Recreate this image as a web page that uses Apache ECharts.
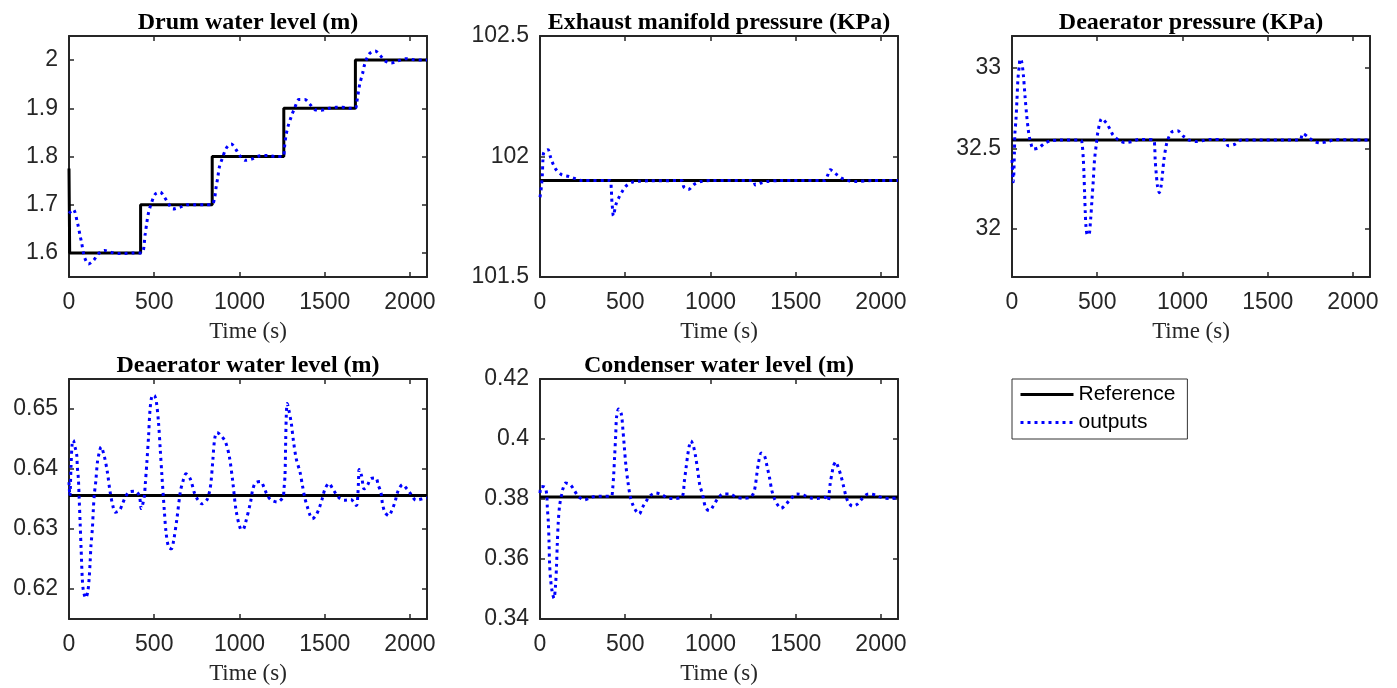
<!DOCTYPE html>
<html>
<head>
<meta charset="utf-8">
<script src="https://cdn.jsdelivr.net/npm/echarts@6/dist/echarts.min.js"></script>
<style>
html, body { margin: 0; padding: 0; background: #fff; }
#chart { width: 1397px; height: 688px; }
</style>
</head>
<body>
<div id="chart"></div>
<script>
// drum water level (m)
const drumTime = [0, 25, 51, 65, 75, 84, 94, 114, 143, 172, 208, 251, 290, 329, 378, 427, 447, 457, 467, 482, 506, 535, 559, 584, 610, 653, 692, 741, 790, 838, 853, 863, 873, 882, 898, 924, 951, 980, 1006, 1035, 1075, 1114, 1163, 1212, 1255, 1264, 1273, 1286, 1304, 1324, 1349, 1384, 1414, 1443, 1480, 1525, 1565, 1604, 1643, 1680, 1688, 1696, 1706, 1722, 1735, 1761, 1796, 1825, 1855, 1890, 1927, 1973, 2016, 2075, 2100];
const drumOut = [1.682, 1.69, 1.66, 1.636, 1.619, 1.601, 1.588, 1.577, 1.584, 1.598, 1.605, 1.601, 1.599, 1.599, 1.6, 1.6, 1.639, 1.664, 1.684, 1.702, 1.722, 1.726, 1.716, 1.702, 1.691, 1.695, 1.7, 1.7, 1.7, 1.7, 1.712, 1.736, 1.757, 1.778, 1.795, 1.818, 1.826, 1.814, 1.8, 1.792, 1.795, 1.801, 1.802, 1.8, 1.8, 1.819, 1.844, 1.864, 1.883, 1.901, 1.918, 1.918, 1.908, 1.897, 1.896, 1.9, 1.902, 1.902, 1.9, 1.9, 1.913, 1.93, 1.951, 1.972, 1.992, 2.013, 2.019, 2.01, 1.998, 1.994, 1.998, 2.003, 2.001, 2.0, 2.0];
const drumRefTime = [0, 4, 420, 840, 1260, 1680, 2100];
const drumRefLevel = [1.775, 1.6, 1.7, 1.8, 1.9, 2.0, 2.0];

// exhaust manifold pressure (KPa)
const exhTime = [0, 8, 14, 17, 23, 47, 62, 76, 95, 126, 169, 208, 247, 412, 418, 420, 422, 426, 430, 445, 461, 480, 504, 539, 578, 640, 831, 844, 870, 903, 942, 1000, 1249, 1263, 1292, 1331, 1400, 1667, 1687, 1702, 1735, 1768, 1807, 1852, 1950, 2100];
const exhOut = [101.831, 101.873, 101.928, 101.983, 102.018, 102.028, 101.997, 101.97, 101.945, 101.925, 101.917, 101.908, 101.9, 101.9, 101.866, 101.838, 101.81, 101.78, 101.754, 101.8, 101.827, 101.852, 101.877, 101.893, 101.897, 101.899, 101.9, 101.873, 101.863, 101.884, 101.896, 101.9, 101.9, 101.882, 101.889, 101.896, 101.9, 101.9, 101.921, 101.945, 101.928, 101.911, 101.9, 101.896, 101.9, 101.9];
const exhRef = 101.9;

// deaerator pressure (KPa)
const deaPTime = [0, 8, 14, 17, 23, 29, 35, 43, 47, 56, 66, 76, 86, 95, 101, 111, 125, 160, 189, 228, 276, 403, 412, 418, 422, 426, 430, 434, 442, 451, 461, 469, 477, 484, 494, 504, 527, 553, 574, 593, 626, 661, 704, 747, 792, 831, 837, 840, 846, 854, 864, 874, 883, 891, 903, 914, 938, 971, 1006, 1039, 1080, 1123, 1165, 1249, 1268, 1309, 1346, 1687, 1706, 1735, 1770, 1807, 1852, 1891, 2100];
const deaPOut = [32.428, 32.293, 32.469, 32.593, 32.676, 32.8, 32.934, 33.017, 33.058, 33.043, 32.965, 32.83, 32.707, 32.62, 32.576, 32.531, 32.496, 32.506, 32.531, 32.548, 32.552, 32.552, 32.521, 32.438, 32.345, 32.221, 32.097, 32.014, 31.963, 31.963, 32.056, 32.18, 32.304, 32.428, 32.521, 32.603, 32.686, 32.659, 32.622, 32.583, 32.552, 32.537, 32.543, 32.556, 32.556, 32.552, 32.51, 32.428, 32.345, 32.262, 32.225, 32.262, 32.345, 32.428, 32.51, 32.556, 32.603, 32.61, 32.576, 32.552, 32.543, 32.55, 32.556, 32.552, 32.517, 32.527, 32.552, 32.552, 32.593, 32.572, 32.545, 32.535, 32.543, 32.554, 32.552];
const deaPRef = 32.552;

// deaerator water level (m)
const deaLTime = [0, 5, 12, 18, 25, 35, 45, 49, 55, 59, 65, 71, 78, 84, 98, 110, 118, 124, 129, 137, 143, 149, 157, 167, 178, 188, 208, 225, 241, 257, 271, 296, 314, 329, 353, 388, 412, 424, 441, 447, 457, 467, 476, 490, 502, 512, 525, 535, 545, 559, 569, 584, 600, 614, 633, 653, 667, 686, 712, 737, 755, 780, 810, 824, 833, 843, 855, 869, 894, 918, 941, 961, 980, 1006, 1020, 1035, 1065, 1078, 1094, 1124, 1143, 1159, 1182, 1222, 1255, 1261, 1267, 1271, 1275, 1280, 1290, 1304, 1316, 1333, 1355, 1369, 1384, 1398, 1414, 1427, 1447, 1467, 1486, 1502, 1525, 1545, 1565, 1588, 1614, 1653, 1686, 1694, 1698, 1702, 1716, 1731, 1751, 1771, 1800, 1814, 1829, 1839, 1853, 1875, 1894, 1912, 1931, 1957, 1982, 2006, 2035, 2084, 2100];
const deaLOut = [0.6378, 0.6355, 0.6405, 0.644, 0.6448, 0.6437, 0.6424, 0.6403, 0.6384, 0.6356, 0.6312, 0.6267, 0.6217, 0.6198, 0.6185, 0.6195, 0.6217, 0.6245, 0.6273, 0.63, 0.6334, 0.6359, 0.6379, 0.6412, 0.6428, 0.6437, 0.642, 0.6395, 0.6362, 0.6339, 0.6328, 0.6331, 0.6342, 0.6352, 0.6362, 0.6363, 0.6356, 0.6334, 0.6353, 0.6373, 0.6412, 0.6456, 0.6501, 0.6523, 0.6522, 0.6513, 0.6478, 0.6434, 0.6389, 0.6331, 0.6295, 0.627, 0.6267, 0.6281, 0.6317, 0.6362, 0.6378, 0.6392, 0.6383, 0.6359, 0.6349, 0.6342, 0.6349, 0.6362, 0.6378, 0.6412, 0.6451, 0.6461, 0.6455, 0.6445, 0.642, 0.6378, 0.6331, 0.63, 0.6299, 0.631, 0.6345, 0.6366, 0.6377, 0.6379, 0.637, 0.6359, 0.6349, 0.6345, 0.6353, 0.6367, 0.6389, 0.6445, 0.6492, 0.6509, 0.6498, 0.6476, 0.6448, 0.6417, 0.6395, 0.6373, 0.6351, 0.6337, 0.6323, 0.6317, 0.6322, 0.6334, 0.6351, 0.6367, 0.6376, 0.6368, 0.6359, 0.6351, 0.6348, 0.6349, 0.6339, 0.6356, 0.6378, 0.6399, 0.6389, 0.6367, 0.6373, 0.6384, 0.6385, 0.6373, 0.6362, 0.6342, 0.6328, 0.6322, 0.6331, 0.6345, 0.6364, 0.6374, 0.6367, 0.6358, 0.6348, 0.6351, 0.6352];
const deaLRef = 0.6356;

// condenser water level (m)
const condTime = [0, 8, 29, 39, 43, 49, 53, 56, 62, 72, 82, 91, 97, 101, 107, 115, 126, 134, 150, 179, 202, 224, 261, 302, 344, 383, 418, 426, 432, 438, 444, 449, 461, 477, 486, 494, 504, 516, 529, 543, 562, 582, 601, 621, 646, 679, 718, 757, 798, 835, 846, 856, 866, 876, 885, 899, 912, 924, 938, 953, 971, 992, 1016, 1041, 1074, 1113, 1152, 1195, 1235, 1253, 1263, 1272, 1282, 1298, 1317, 1331, 1346, 1360, 1376, 1391, 1414, 1444, 1473, 1506, 1547, 1586, 1628, 1671, 1691, 1696, 1702, 1712, 1722, 1735, 1749, 1765, 1780, 1794, 1807, 1833, 1862, 1891, 1926, 1969, 2008, 2053, 2100];
const condOut = [0.382, 0.3842, 0.3839, 0.3817, 0.3772, 0.3722, 0.3656, 0.3589, 0.3533, 0.3489, 0.3469, 0.3511, 0.3578, 0.3644, 0.3722, 0.3778, 0.3813, 0.3833, 0.3853, 0.3847, 0.3828, 0.3809, 0.3797, 0.3806, 0.3809, 0.3809, 0.3809, 0.3833, 0.3878, 0.3944, 0.4011, 0.4072, 0.41, 0.4083, 0.4033, 0.3978, 0.3911, 0.3856, 0.3809, 0.3783, 0.3761, 0.375, 0.3772, 0.3791, 0.3811, 0.382, 0.3813, 0.3802, 0.3802, 0.3809, 0.3856, 0.39, 0.3944, 0.3978, 0.3994, 0.3978, 0.3944, 0.39, 0.3844, 0.3817, 0.3772, 0.3761, 0.3776, 0.38, 0.3817, 0.3817, 0.3806, 0.3802, 0.3806, 0.382, 0.3844, 0.3883, 0.3922, 0.3953, 0.3944, 0.3911, 0.3872, 0.3828, 0.38, 0.3783, 0.3769, 0.3783, 0.3802, 0.3817, 0.3813, 0.3803, 0.3802, 0.3806, 0.3794, 0.3817, 0.385, 0.3883, 0.3911, 0.3924, 0.3906, 0.3878, 0.3844, 0.3811, 0.3791, 0.3776, 0.3783, 0.3802, 0.3817, 0.3813, 0.3804, 0.3802, 0.3803];
const condRef = 0.3807;

const titles = ['Drum water level (m)', 'Exhaust manifold pressure (KPa)', 'Deaerator pressure (KPa)', 'Deaerator water level (m)', 'Condenser water level (m)'];
const xTicks = [0, 500, 1000, 1500, 2000];
const tEnd = 2100;

function zip(xs, ys) {
    return xs.map(function (x, i) { return [x, ys[i]]; });
}

let panels = [
    { left: 69, top: 36, h: 241, out: zip(drumTime, drumOut), ref: zip(drumRefTime, drumRefLevel), step: true,
      yMin: 1.55, yMax: 2.05, split: 5, edgeLabels: false },
    { left: 540, top: 36, h: 241, out: zip(exhTime, exhOut), ref: [[0, exhRef], [tEnd, exhRef]],
      yMin: 101.5, yMax: 102.5, interval: 0.5, edgeLabels: true },
    { left: 1012, top: 36, h: 241, out: zip(deaPTime, deaPOut), ref: [[0, deaPRef], [tEnd, deaPRef]],
      yMin: 31.7, yMax: 33.2, split: 3, edgeLabels: false },
    { left: 69, top: 379, h: 240, out: zip(deaLTime, deaLOut), ref: [[0, deaLRef], [tEnd, deaLRef]],
      yMin: 0.615, yMax: 0.655, split: 4, edgeLabels: false },
    { left: 540, top: 379, h: 240, out: zip(condTime, condOut), ref: [[0, condRef], [tEnd, condRef]],
      yMin: 0.34, yMax: 0.42, interval: 0.02, edgeLabels: true }
];

const axisColor = '#262626';
const axisLine = { show: true, onZero: false, lineStyle: { color: axisColor, width: 2 } };
const tick = { show: true, inside: true, length: 5, lineStyle: { color: axisColor, width: 1.5 } };

let option = {
    animation: false,
    backgroundColor: '#fff',
    title: [],
    grid: [],
    xAxis: [],
    yAxis: [],
    series: [],
    legend: {
        data: ['Reference', 'outputs'],
        orient: 'vertical',
        left: 1012,
        top: 379,
        itemWidth: 53,
        itemHeight: 14,
        itemGap: 7,
        padding: [5, 12, 6, 7],
        borderColor: '#333',
        borderWidth: 1,
        backgroundColor: '#fff',
        selectedMode: false,
        itemStyle: { color: 'rgba(0,0,0,0)', borderWidth: 0, opacity: 0 },
        lineStyle: { width: 3 },
        textStyle: { fontFamily: 'Liberation Sans', fontSize: 21, color: '#000' }
    }
};

panels.forEach(function (p, i) {
    let w = 358;
    option.title.push({
        text: titles[i],
        left: p.left + w / 2,
        top: p.top - 25,
        textAlign: 'center',
        padding: 0,
        textStyle: { fontFamily: 'Liberation Serif', fontWeight: 'bold', fontSize: 24, color: '#000' }
    });
    option.grid.push({ left: p.left, top: p.top, width: w, height: p.h });
    let xBase = { type: 'value', gridIndex: i, min: 0, max: tEnd, interval: 500, splitLine: { show: false },
                  axisLine: axisLine, axisTick: tick };
    option.xAxis.push(Object.assign({}, xBase, {
        position: 'bottom',
        name: 'Time (s)', nameLocation: 'middle', nameGap: 43,
        nameTextStyle: { fontFamily: 'Liberation Serif', fontSize: 23, color: axisColor },
        axisLabel: { fontFamily: 'Liberation Sans', fontSize: 23, color: axisColor, margin: 14,
                     showMaxLabel: false, formatter: function (v) { return xTicks.indexOf(v) >= 0 ? String(v) : ''; } }
    }));
    option.xAxis.push(Object.assign({}, xBase, { position: 'top', axisLabel: { show: false } }));
    let yBase = { type: 'value', gridIndex: i, min: p.yMin, max: p.yMax, splitLine: { show: false },
                  axisLine: axisLine, axisTick: tick };
    if (p.interval) yBase.interval = p.interval; else yBase.splitNumber = p.split;
    option.yAxis.push(Object.assign({}, yBase, {
        position: 'left',
        axisLabel: { fontFamily: 'Liberation Sans', fontSize: 23, color: axisColor, margin: 11,
                     showMinLabel: p.edgeLabels, showMaxLabel: p.edgeLabels }
    }));
    option.yAxis.push(Object.assign({}, yBase, { position: 'right', axisLabel: { show: false } }));
    option.series.push({
        name: 'Reference', type: 'line', xAxisIndex: 2 * i, yAxisIndex: 2 * i,
        data: p.ref, step: p.step ? 'end' : false, symbol: 'none', z: 2,
        lineStyle: { color: '#000', width: 3 }, itemStyle: { color: '#000' }
    });
    option.series.push({
        name: 'outputs', type: 'line', xAxisIndex: 2 * i, yAxisIndex: 2 * i,
        data: p.out, symbol: 'none', smooth: 0.3, z: 3,
        lineStyle: { color: '#0000ff', width: 3, type: [3, 4] }, itemStyle: { color: '#0000ff' }
    });
});

let chart = echarts.init(document.getElementById('chart'));
chart.setOption(option);
</script>
</body>
</html>
